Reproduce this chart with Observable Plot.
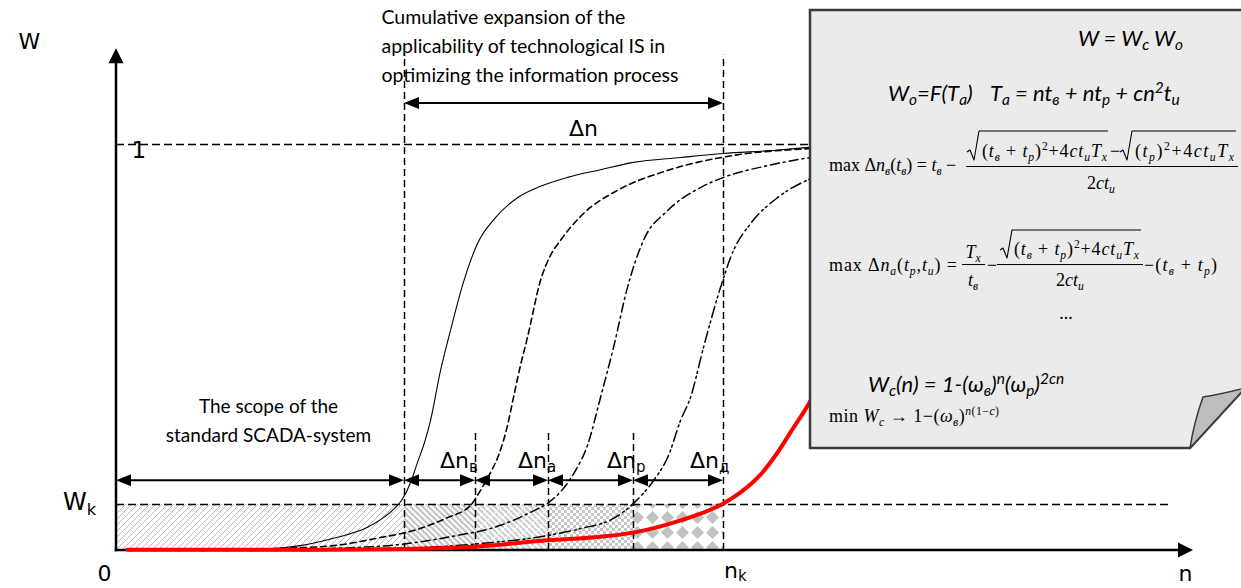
<!DOCTYPE html>
<html><head><meta charset="utf-8">
<script src="https://cdn.jsdelivr.net/npm/d3@7"></script>
<script src="https://cdn.jsdelivr.net/npm/@observablehq/plot@0.6"></script>
<style>
html,body{margin:0;padding:0;background:#fff;}
#chart{position:relative;width:1241px;height:588px;overflow:hidden;}
</style></head><body><div id="chart"></div>
<script>
// ---------- values ----------
const nBounds = [0, 2.88, 3.59, 4.32, 5.17, 6.07];   // 0, n_в, n_а, n_р, n_k
const Wk = 0.113;
const nAxisEnd = 10.77, wAxisEnd = 1.236;
const wGuideTop = 1.22, wGuideShort = 0.296;
const dnArrowW = 1.101, scopeArrowW = 0.172;
const subLetters = ["в", "а", "р", "д"];
const dnLabelN = [3.24, 4.02, 4.91, 5.74];

const solidN = [0.34,0.84,1.34,1.84,2.17,2.51,2.64,2.76,2.85,2.94,3.01,3.08,3.14,3.24,3.34,3.46,3.61,3.79,4.01,4.24,4.51,4.84,5.17,5.64,6.07,6.54,6.94,7.34];
const solidW = [0,0,0.002,0.012,0.030,0.057,0.076,0.099,0.123,0.167,0.217,0.266,0.320,0.443,0.542,0.653,0.756,0.820,0.869,0.897,0.919,0.938,0.956,0.968,0.978,0.985,0.993,0.995];
const dashN = [0.84,1.61,2.17,2.64,2.97,3.31,3.54,3.64,3.74,3.82,3.91,3.97,4.04,4.11,4.24,4.34,4.44,4.67,5.01,5.51,6.17,6.94,7.34];
const dashW = [0,0.005,0.012,0.032,0.049,0.081,0.111,0.148,0.192,0.234,0.308,0.377,0.456,0.525,0.665,0.727,0.764,0.830,0.887,0.936,0.973,0.990,0.995];
const dotN = [1.34,2.14,2.84,3.34,3.84,4.14,4.32,4.47,4.59,4.71,4.84,4.97,5.11,5.27,5.51,5.84,6.07,6.51,6.94,7.34];
const dotW = [0,0.005,0.015,0.034,0.062,0.094,0.118,0.153,0.197,0.259,0.377,0.500,0.648,0.764,0.837,0.894,0.919,0.948,0.968,0.980];
const dot2N = [1.84,2.84,3.64,4.31,4.64,4.97,5.17,5.37,5.52,5.64,5.74,5.87,6.04,6.17,6.34,6.61,6.94,7.34];
const dot2W = [0,0.005,0.017,0.037,0.054,0.079,0.116,0.172,0.234,0.320,0.377,0.500,0.648,0.739,0.805,0.869,0.916,0.948];
const redN = [0.11,1.84,2.88,3.61,4.31,4.84,5.17,5.64,6.07,6.24,6.44,6.59,6.74,6.94,7.14];
const redW = [0.002,0.002,0.004,0.010,0.025,0.034,0.044,0.074,0.116,0.143,0.187,0.234,0.291,0.369,0.468];

const scopeText = "The scope of the\nstandard SCADA-system";
const cumulText = "Cumulative expansion of the\napplicability of technological IS in\noptimizing the information process";

// ---------- helpers ----------
const pairs = (xs, ys) => xs.map((n, i) => ({n, w: ys[i]}));
const ITALIC_RE = /[A-Za-zА-Яа-яёω]/;
function tokenize(src, autoItalic) {
  const out = [];
  const push = (t, level, italic) => {
    const last = out[out.length - 1];
    if (last && last.level === level && last.italic === italic) last.t += t;
    else out.push({t, level, italic});
  };
  const emit = (str, level) => {
    for (let k = 0; k < str.length;) {
      if (autoItalic && (str.startsWith("max", k) || str.startsWith("min", k))) { push(str.substr(k, 3), level, false); k += 3; continue; }
      const ch = str[k];
      push(ch, level, autoItalic ? ITALIC_RE.test(ch) : false);
      k++;
    }
  };
  let i = 0;
  while (i < src.length) {
    const c = src[i];
    if (c === "_" || c === "^") {
      const level = c === "_" ? -1 : 1;
      let content;
      if (src[i + 1] === "{") { const j = src.indexOf("}", i + 2); content = src.slice(i + 2, j); i = j + 1; }
      else { content = src[i + 1]; i += 2; }
      emit(content, level);
    } else {
      let j = i; while (j < src.length && src[j] !== "_" && src[j] !== "^") j++;
      emit(src.slice(i, j), 0); i = j;
    }
  }
  return out;
}
function richText(parent, x, y, src, o) {
  const size = o.size;
  const text = parent.append("text").attr("x", x).attr("y", y)
    .attr("font-family", o.family).attr("font-size", size)
    .attr("text-anchor", o.anchor || "start").attr("fill", o.fill || "black")
    .style("white-space", "pre");
  if (o.italic) text.attr("font-style", "italic");
  if (o.textLength) text.attr("textLength", o.textLength);
  let cur = 0;
  for (const tok of tokenize(src, o.autoItalic)) {
    const target = tok.level < 0 ? size * (o.subShift ?? 0.25) : tok.level > 0 ? -size * (o.supShift ?? 0.4) : 0;
    const ts = text.append("tspan").text(tok.t);
    if (target !== cur) ts.attr("dy", target - cur);
    cur = target;
    if (tok.level) ts.attr("font-size", size * (o.scriptScale ?? 0.65));
    if (o.autoItalic) ts.attr("font-style", tok.italic ? "italic" : "normal");
  }
  return text;
}
function arrowMark(list, {head = 15, half = 6, width = 2, cap = "butt"} = {}) {
  return (index, scales) => {
    const g = d3.create("svg:g");
    const tri = (tx, ty, ux, uy) => `M${tx},${ty}L${tx - ux*head - uy*half},${ty - uy*head + ux*half}L${tx - ux*head + uy*half},${ty - uy*head - ux*half}Z`;
    for (const a of list) {
      const X1 = scales.x(a.x1), Y1 = scales.y(a.y1), X2 = scales.x(a.x2), Y2 = scales.y(a.y2);
      const L = Math.hypot(X2 - X1, Y2 - Y1), ux = (X2 - X1) / L, uy = (Y2 - Y1) / L;
      const s = a.both ? head - 2 : 0, e = head - 2;
      g.append("line").attr("x1", X1 + ux*s).attr("y1", Y1 + uy*s).attr("x2", X2 - ux*e).attr("y2", Y2 - uy*e)
        .attr("stroke", "black").attr("stroke-width", width).attr("stroke-linecap", cap);
      g.append("path").attr("d", tri(X2, Y2, ux, uy)).attr("fill", "black");
      if (a.both) g.append("path").attr("d", tri(X1, Y1, -ux, -uy)).attr("fill", "black");
    }
    return g.node();
  };
}

// ---------- pattern definitions ----------
const defsMark = () => {
  const g = d3.create("svg:g");
  const defs = g.append("defs");
  const pat = (id, w, h) => defs.append("pattern").attr("id", id).attr("patternUnits", "userSpaceOnUse").attr("width", w).attr("height", h);
  pat("hatchA", 6, 6).append("path").attr("d", "M-1,1l2,-2M0,6l6,-6M5,7l2,-2").attr("stroke", "#b0b0b0").attr("stroke-width", 0.9);
  pat("hatchB", 6, 6).append("path").attr("d", "M-1,5l2,2M0,0l6,6M5,-1l2,2").attr("stroke", "#c4c4c4").attr("stroke-width", 2.2);
  const b2 = pat("hatchB2", 12, 12);
  b2.append("path").attr("d", "M-6,0L6,12M0,0L12,12M6,0L18,12").attr("stroke", "#d0d0d0").attr("stroke-width", 2.4);
  b2.append("path").attr("d", "M0,12L12,0").attr("stroke", "#fff").attr("stroke-width", 1);
  const ch = pat("checker", 6, 6);
  ch.append("rect").attr("width", 3).attr("height", 3).attr("fill", "#c6c6c6");
  ch.append("rect").attr("x", 3).attr("y", 3).attr("width", 3).attr("height", 3).attr("fill", "#c6c6c6");
  pat("diamond", 15, 15).append("path").attr("d", "M7.5,1L14,7.5L7.5,14L1,7.5Z").attr("fill", "#c2c2c2");
  return g.node();
};
const patternIds = ["hatchA", "hatchB", "hatchB2", "checker", "diamond"];

// ---------- formula panel (annotation note) ----------
const panelMark = () => {
  const g = d3.create("svg:g");
  g.append("path").attr("d", "M810,10L1245,10L1245,388L1190,448L810,448Z")
    .attr("fill", "#ebebeb").attr("stroke", "#3a3a3a").attr("stroke-width", 2.5);
  g.append("path").attr("d", "M1190,448Q1194,422 1203,397Q1222,394 1245,388Z")
    .attr("fill", "#bdbdbd").attr("stroke", "#3a3a3a").attr("stroke-width", 1.5).attr("stroke-linejoin", "round");
  const sans = {family: "Lato, 'Open Sans', sans-serif", size: 22, italic: true, subShift: 0.2, supShift: 0.38, scriptScale: 0.7};
  const serif = {family: "'Liberation Serif', 'Times New Roman', serif", size: 18, autoItalic: true, subShift: 0.22, supShift: 0.4, scriptScale: 0.65};
  const line = (x1, y1, x2, y2, w = 1) => g.append("line").attr("x1", x1).attr("y1", y1).attr("x2", x2).attr("y2", y2).attr("stroke", "black").attr("stroke-width", w);
  const radical = (x0, yBase, yTop, x1) => g.append("path")
    .attr("d", `M${x0},${yBase - 5}L${x0 + 3},${yBase - 7}L${x0 + 7},${yBase + 3}L${x0 + 12},${yTop}L${x1},${yTop}`)
    .attr("fill", "none").attr("stroke", "black").attr("stroke-width", 1.1).attr("stroke-linejoin", "round");

  richText(g, 1078, 46, "W = W_c W_o", sans);
  richText(g, 888, 101, "W_o=F(T_a)", sans);
  richText(g, 990, 101, "T_a = nt_в + nt_p + cn^2t_u", sans);

  // max Δn_в
  richText(g, 829, 171, "max Δn_в(t_в) = t_в −", serif);
  radical(967, 157, 131, 1108);
  richText(g, 982, 157, "(t_в + t_p)^2+4ct_uT_x", {...serif, textLength: 125});
  richText(g, 1110, 157, "−", serif);
  radical(1120, 157, 131, 1236);
  richText(g, 1135, 157, "(t_p)^2+4ct_uT_x", {...serif, textLength: 99});
  line(966, 166.5, 1238, 166.5);
  richText(g, 1101, 189, "2ct_u", {...serif, anchor: "middle"});

  // max Δn_a
  richText(g, 829, 271, "max Δn_a(t_p,t_u) =", {...serif, textLength: 128});
  richText(g, 973, 258, "T_x", {...serif, anchor: "middle"});
  line(962, 264.5, 985, 264.5);
  richText(g, 973, 286, "t_в", {...serif, anchor: "middle"});
  richText(g, 987, 271, "−", serif);
  radical(1000, 255, 230, 1141);
  richText(g, 1014, 255, "(t_в + t_p)^2+4ct_uT_x", {...serif, textLength: 125});
  line(997, 264.5, 1143, 264.5);
  richText(g, 1070, 286, "2ct_u", {...serif, anchor: "middle"});
  richText(g, 1144, 271, "−(t_в + t_p)", {...serif, textLength: 73});
  richText(g, 1066, 319, "...", {...serif, anchor: "middle"});

  richText(g, 868, 392, "W_c(n) = 1-(ω_в)^n(ω_p)^{2cn}", sans);
  richText(g, 829, 422, "min W_c → 1−(ω_в)^{n(1−c)}", {...serif, textLength: 170});
  return g.node();
};

// ---------- labels with subscripts placed through the scales ----------
const richLabels = (index, scales) => {
  const g = d3.create("svg:g");
  const f = {family: "'DejaVu Sans', Verdana, sans-serif", subShift: 0.2, scriptScale: 0.68};
  richText(g, scales.x(-0.53), scales.y(0.099), "W_k", {...f, size: 24});
  richText(g, scales.x(6.08), scales.y(-0.069), "n_k", {...f, size: 22, subShift: 0.12});
  subLetters.forEach((s, i) => richText(g, scales.x(dnLabelN[i]), scales.y(0.202), "Δn_" + s, {...f, size: 22}));
  return g.node();
};

const guide = {stroke: "black", strokeWidth: 1.5, strokeDasharray: "7,4"};
const axisFont = "'DejaVu Sans', Verdana, sans-serif";
const textFont = "Lato, Carlito, Calibri, sans-serif";

const chart = Plot.plot({
  width: 1241, height: 588,
  marginLeft: 116, marginRight: 48, marginTop: 42.5, marginBottom: 38,
  x: {domain: [0, nAxisEnd], axis: null},
  y: {domain: [0, 1.25], axis: null},
  style: {background: "#fff"},
  marks: [
    defsMark,
    ...nBounds.slice(0, -1).map((x1, i) =>
      Plot.rect([{x1, x2: nBounds[i + 1], y1: 0, y2: Wk}], {x1: "x1", x2: "x2", y1: "y1", y2: "y2", fill: `url(#${patternIds[i]})`})),
    Plot.ruleY([1], {x1: 0, x2: 7.2, ...guide, strokeDasharray: "8,4"}),
    Plot.ruleY([Wk], {x1: 0, x2: 10.54, ...guide, strokeDasharray: "8,4"}),
    Plot.ruleX([nBounds[1], nBounds[5]], {y1: 0, y2: wGuideTop, ...guide}),
    Plot.ruleX(nBounds.slice(2, 5), {y1: 0, y2: wGuideShort, ...guide}),
    Plot.line(pairs(solidN, solidW), {x: "n", y: "w", stroke: "black", strokeWidth: 1.1, curve: "monotone-x"}),
    Plot.line(pairs(dashN, dashW), {x: "n", y: "w", stroke: "black", strokeWidth: 1.6, strokeDasharray: "6,4", curve: "monotone-x"}),
    Plot.line(pairs(dotN, dotW), {x: "n", y: "w", stroke: "black", strokeWidth: 1.5, strokeDasharray: "9,4,2,4", curve: "monotone-x"}),
    Plot.line(pairs(dot2N, dot2W), {x: "n", y: "w", stroke: "black", strokeWidth: 1.5, strokeDasharray: "11,4,2,3,2,4", curve: "monotone-x"}),
    arrowMark([{x1: 0, y1: 0, x2: nAxisEnd, y2: 0}, {x1: 0, y1: 0, x2: 0, y2: wAxisEnd}], {head: 15, half: 7.5, width: 2.5, cap: "square"}),
    arrowMark([
      {x1: nBounds[1], x2: nBounds[5], y1: dnArrowW, y2: dnArrowW, both: true},
      ...nBounds.slice(0, -1).map((x1, i) => ({x1, x2: nBounds[i + 1], y1: scopeArrowW, y2: scopeArrowW, both: true}))
    ], {head: 15, half: 6, width: 2}),
    Plot.line(pairs(redN, redW), {x: "n", y: "w", stroke: "#ff0000", strokeWidth: 4, curve: "monotone-x"}),
    Plot.text(["W"], {x: -0.98, y: wAxisEnd, text: d => d, textAnchor: "start", lineAnchor: "bottom", fontSize: 22, fontFamily: axisFont}),
    Plot.text(["1"], {x: 0.15, y: 0.966, text: d => d, textAnchor: "start", lineAnchor: "bottom", fontSize: 23, fontFamily: axisFont}),
    Plot.text(["0"], {x: -0.12, y: -0.076, text: d => d, textAnchor: "middle", lineAnchor: "bottom", fontSize: 22, fontFamily: axisFont}),
    Plot.text(["n"], {x: 10.69, y: -0.076, text: d => d, textAnchor: "middle", lineAnchor: "bottom", fontSize: 22, fontFamily: axisFont}),
    Plot.text(["Δn"], {x: 4.67, y: 1.022, text: d => d, textAnchor: "middle", lineAnchor: "bottom", fontSize: 22, fontFamily: axisFont}),
    Plot.text([scopeText], {x: 1.52, y: 0.268, text: d => d, textAnchor: "middle", lineAnchor: "bottom", lineHeight: 29 / 19, fontSize: 19, fontFamily: textFont}),
    Plot.text([cumulText], {x: 2.65, y: 1.153, text: d => d, textAnchor: "start", lineAnchor: "bottom", lineHeight: 29 / 19.5, fontSize: 19.5, fontFamily: textFont}),
    richLabels,
    panelMark
  ]
});
document.getElementById("chart").append(chart);
</script></body></html>
